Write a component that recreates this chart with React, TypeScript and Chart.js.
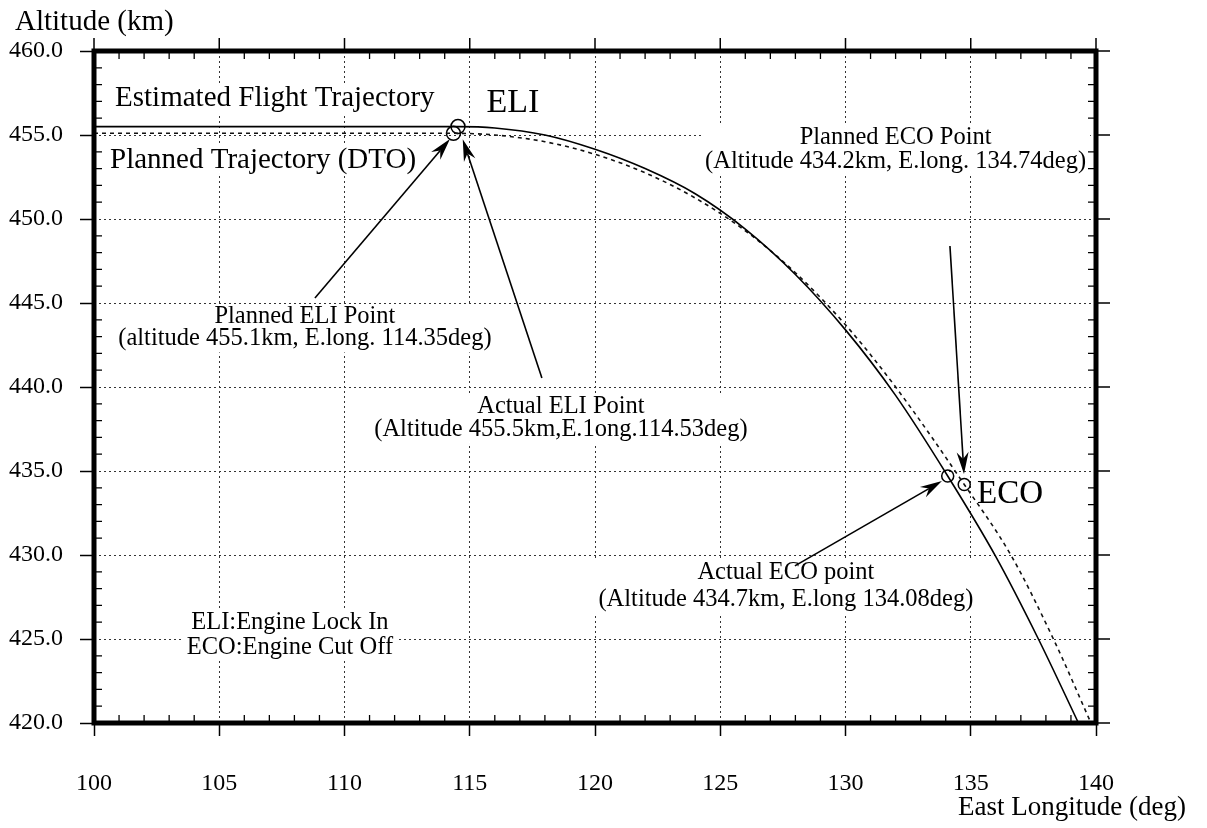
import React, { useEffect, useRef } from 'react';
import { Chart, registerables } from 'chart.js';

Chart.register(...registerables);

// ---- data ----
const estLon = [100, 105, 110, 114.53, 116, 118, 120, 122, 124, 126, 128, 130, 132, 134.08, 136, 137.7, 139.3];
const estAlt = [455.5, 455.5, 455.5, 455.5, 455.42, 455.0, 454.15, 453.0, 451.5, 449.4, 446.7, 443.4, 439.5, 434.7, 429.9, 425.0, 420.0];
const plnLon = [100, 105, 110, 114.35, 116, 118, 120, 122, 124, 126, 128, 130, 132, 134.74, 136.6, 138.3, 139.8];
const plnAlt = [455.1, 455.1, 455.1, 455.1, 455.0, 454.6, 453.85, 452.75, 451.25, 449.3, 446.8, 443.7, 440.0, 434.2, 430.0, 425.0, 420.0];
const eliLon = [114.35, 114.53];
const eliAlt = [455.1, 455.5];
const ecoLon = [134.08, 134.74];
const ecoAlt = [434.7, 434.2];

const xMin = 100, xMax = 140, xStep = 5;
const yMin = 420, yMax = 460, yStep = 5;
const xTitle = 'East Longitude (deg)';
const yTitle = 'Altitude (km)';

// ---- annotations (anchors in data units) ----
const FONT = "'Liberation Serif', 'Times New Roman', serif";
const textBlocks = [
  { lines: ['Estimated Flight Trajectory'], x: 100.84, y: [457.2], align: 'left', size: 29 },
  { lines: ['Planned Trajectory (DTO)'], x: 100.64, y: [453.51], align: 'left', size: 29 },
  { lines: ['ELI'], x: 115.67, y: [456.9], align: 'left', size: 34 },
  { lines: ['ECO'], x: 135.25, y: [433.6], align: 'left', size: 33 },
  { lines: ['Planned ECO Point', '(Altitude 434.2km, E.long. 134.74deg)'], x: 132.0, y: [454.82, 453.39], align: 'center', size: 24.5 },
  { lines: ['Planned ELI Point', '(altitude 455.1km, E.long. 114.35deg)'], x: 108.42, y: [444.17, 442.86], align: 'center', size: 24.5 },
  { lines: ['Actual ELI Point', '(Altitude 455.5km,E.1ong.114.53deg)'], x: 118.64, y: [438.81, 437.44], align: 'center', size: 24.5 },
  { lines: ['Actual ECO point', '(Altitude 434.7km, E.long 134.08deg)'], x: 127.62, y: [428.93, 427.32], align: 'center', size: 24.5 },
  { lines: ['ELI:Engine Lock In', 'ECO:Engine Cut Off'], x: 107.82, y: [425.95, 424.52], align: 'center', size: 24.5 },
];
const arrows = [
  { from: [108.82, 445.3], to: [114.21, 454.76] },
  { from: [117.88, 440.54], to: [114.72, 454.75] },
  { from: [134.17, 448.39], to: [134.73, 434.82] },
  { from: [127.98, 429.35], to: [133.85, 434.4] },
];

function drawArrow(ctx: CanvasRenderingContext2D, x1: number, y1: number, x2: number, y2: number) {
  const a = Math.atan2(y2 - y1, x2 - x1);
  const c = Math.cos(a), s = Math.sin(a);
  const L = 22, W = 6, N = 15;
  ctx.beginPath();
  ctx.moveTo(x1, y1);
  ctx.lineTo(x2 - c * N, y2 - s * N);
  ctx.stroke();
  ctx.beginPath();
  ctx.moveTo(x2, y2);
  ctx.lineTo(x2 - L * c + W * s, y2 - L * s - W * c);
  ctx.lineTo(x2 - N * c, y2 - N * s);
  ctx.lineTo(x2 - L * c - W * s, y2 - L * s + W * c);
  ctx.closePath();
  ctx.fill();
}

const decorPlugin = {
  id: 'decor',
  beforeDatasetsDraw(chart: any) {
    const { ctx, scales } = chart;
    const xs = scales.x, ys = scales.y;
    ctx.save();
    ctx.textBaseline = 'middle';
    for (const b of textBlocks) {
      ctx.font = `${b.size}px ${FONT}`;
      const px = xs.getPixelForValue(b.x);
      let l = Infinity, r = -Infinity, t = Infinity, bt = -Infinity;
      const pos = b.lines.map((line, i) => {
        const w = ctx.measureText(line).width;
        const py = ys.getPixelForValue(b.y[i]);
        const left = b.align === 'left' ? px : px - w / 2;
        l = Math.min(l, left); r = Math.max(r, left + w);
        t = Math.min(t, py - b.size * 0.5); bt = Math.max(bt, py + b.size * 0.55);
        return { line, left, py };
      });
      ctx.fillStyle = '#fff';
      ctx.fillRect(l - 4, t, r - l + 8, bt - t);
      ctx.fillStyle = '#000';
      ctx.textAlign = 'left';
      for (const p of pos) ctx.fillText(p.line, p.left, p.py);
    }
    ctx.restore();
  },
  afterDatasetsDraw(chart: any) {
    const { ctx, scales } = chart;
    const xs = scales.x, ys = scales.y;
    ctx.save();
    ctx.strokeStyle = '#000';
    ctx.fillStyle = '#000';
    ctx.lineWidth = 1.6;
    for (const a of arrows) {
      drawArrow(ctx,
        xs.getPixelForValue(a.from[0]), ys.getPixelForValue(a.from[1]),
        xs.getPixelForValue(a.to[0]), ys.getPixelForValue(a.to[1]));
    }
    ctx.restore();
  },
  afterDraw(chart: any) {
    const { ctx, chartArea: ca, scales } = chart;
    const xs = scales.x, ys = scales.y;
    ctx.save();
    ctx.strokeStyle = '#000';
    // minor ticks
    ctx.lineWidth = 1.3;
    ctx.beginPath();
    for (let v = xMin + 1; v < xMax; v++) {
      if (v % xStep === 0) continue;
      const p = xs.getPixelForValue(v);
      ctx.moveTo(p, ca.bottom); ctx.lineTo(p, ca.bottom - 8);
      ctx.moveTo(p, ca.top); ctx.lineTo(p, ca.top + 8);
    }
    for (let v = yMin + 1; v < yMax; v++) {
      if (v % yStep === 0) continue;
      const p = ys.getPixelForValue(v);
      ctx.moveTo(ca.left, p); ctx.lineTo(ca.left + 8, p);
      ctx.moveTo(ca.right, p); ctx.lineTo(ca.right - 8, p);
    }
    ctx.stroke();
    // major ticks on top and right (outside)
    ctx.lineWidth = 1.5;
    ctx.beginPath();
    for (let v = xMin; v <= xMax; v += xStep) {
      const p = xs.getPixelForValue(v);
      ctx.moveTo(p, ca.top); ctx.lineTo(p, ca.top - 13);
    }
    for (let v = yMin; v <= yMax; v += yStep) {
      const p = ys.getPixelForValue(v);
      ctx.moveTo(ca.right, p); ctx.lineTo(ca.right + 14, p);
    }
    ctx.stroke();
    // thick frame
    ctx.lineWidth = 5;
    ctx.strokeRect(ca.left, ca.top, ca.right - ca.left, ca.bottom - ca.top);
    // axis titles
    ctx.fillStyle = '#000';
    ctx.textBaseline = 'middle';
    ctx.font = `29px ${FONT}`;
    ctx.textAlign = 'left';
    ctx.fillText(yTitle, 15, 22);
    ctx.font = `27px ${FONT}`;
    ctx.textAlign = 'right';
    ctx.fillText(xTitle, 1186, 808);
    ctx.restore();
  },
};

export default function App() {
  const ref = useRef<HTMLCanvasElement | null>(null);
  useEffect(() => {
    if (!ref.current) return;
    const gridOpts = {
      color: '#333',
      lineWidth: 1,
      drawTicks: true,
      tickLength: 13,
      tickColor: '#000',
      tickWidth: 1.5,
      tickBorderDash: [],
    };
    const chart = new Chart(ref.current, {
      type: 'scatter',
      data: {
        datasets: [
          {
            label: 'Estimated Flight Trajectory',
            data: estLon.map((x, i) => ({ x, y: estAlt[i] })),
            showLine: true,
            borderColor: '#000',
            borderWidth: 1.6,
            pointRadius: 0,
            cubicInterpolationMode: 'monotone',
          },
          {
            label: 'Planned Trajectory (DTO)',
            data: plnLon.map((x, i) => ({ x, y: plnAlt[i] })),
            showLine: true,
            borderColor: '#111',
            borderWidth: 1.6,
            borderDash: [4, 4],
            pointRadius: 0,
            cubicInterpolationMode: 'monotone',
          },
          {
            label: 'ELI',
            data: eliLon.map((x, i) => ({ x, y: eliAlt[i] })),
            showLine: false,
            pointRadius: 7,
            pointBorderColor: '#000',
            pointBackgroundColor: 'rgba(0,0,0,0)',
            pointBorderWidth: 1.5,
          },
          {
            label: 'ECO',
            data: ecoLon.map((x, i) => ({ x, y: ecoAlt[i] })),
            showLine: false,
            pointRadius: 6,
            pointBorderColor: '#000',
            pointBackgroundColor: 'rgba(0,0,0,0)',
            pointBorderWidth: 1.5,
          },
        ],
      },
      options: {
        responsive: false,
        animation: false,
        devicePixelRatio: 1,
        layout: { padding: { left: 0, right: 111, top: 51, bottom: 0 } },
        plugins: { legend: { display: false }, tooltip: { enabled: false }, title: { display: false } },
        scales: {
          x: {
            type: 'linear',
            min: xMin,
            max: xMax,
            ticks: {
              stepSize: xStep,
              color: '#000',
              font: { family: FONT, size: 24 },
              padding: 33,
              maxRotation: 0,
              callback: (v: any) => String(v),
            },
            grid: { ...gridOpts, tickLength: 13 },
            border: { display: false, dash: [2, 3] },
            afterFit: (s: any) => { s.height = 105; },
          },
          y: {
            type: 'linear',
            min: yMin,
            max: yMax,
            ticks: {
              stepSize: yStep,
              color: '#000',
              font: { family: FONT, size: 24 },
              padding: 17,
              callback: (v: any) => Number(v).toFixed(1),
            },
            grid: { ...gridOpts, tickLength: 14 },
            border: { display: false, dash: [2, 3] },
            afterFit: (s: any) => { s.width = 94; },
          },
        },
      },
      plugins: [decorPlugin],
    } as any);
    return () => chart.destroy();
  }, []);
  return (
    <div style={{ position: 'fixed', left: 0, top: 0, width: 1207, height: 828, background: '#fff' }}>
      <canvas ref={ref} width={1207} height={828} style={{ width: 1207, height: 828, display: 'block' }} />
    </div>
  );
}
